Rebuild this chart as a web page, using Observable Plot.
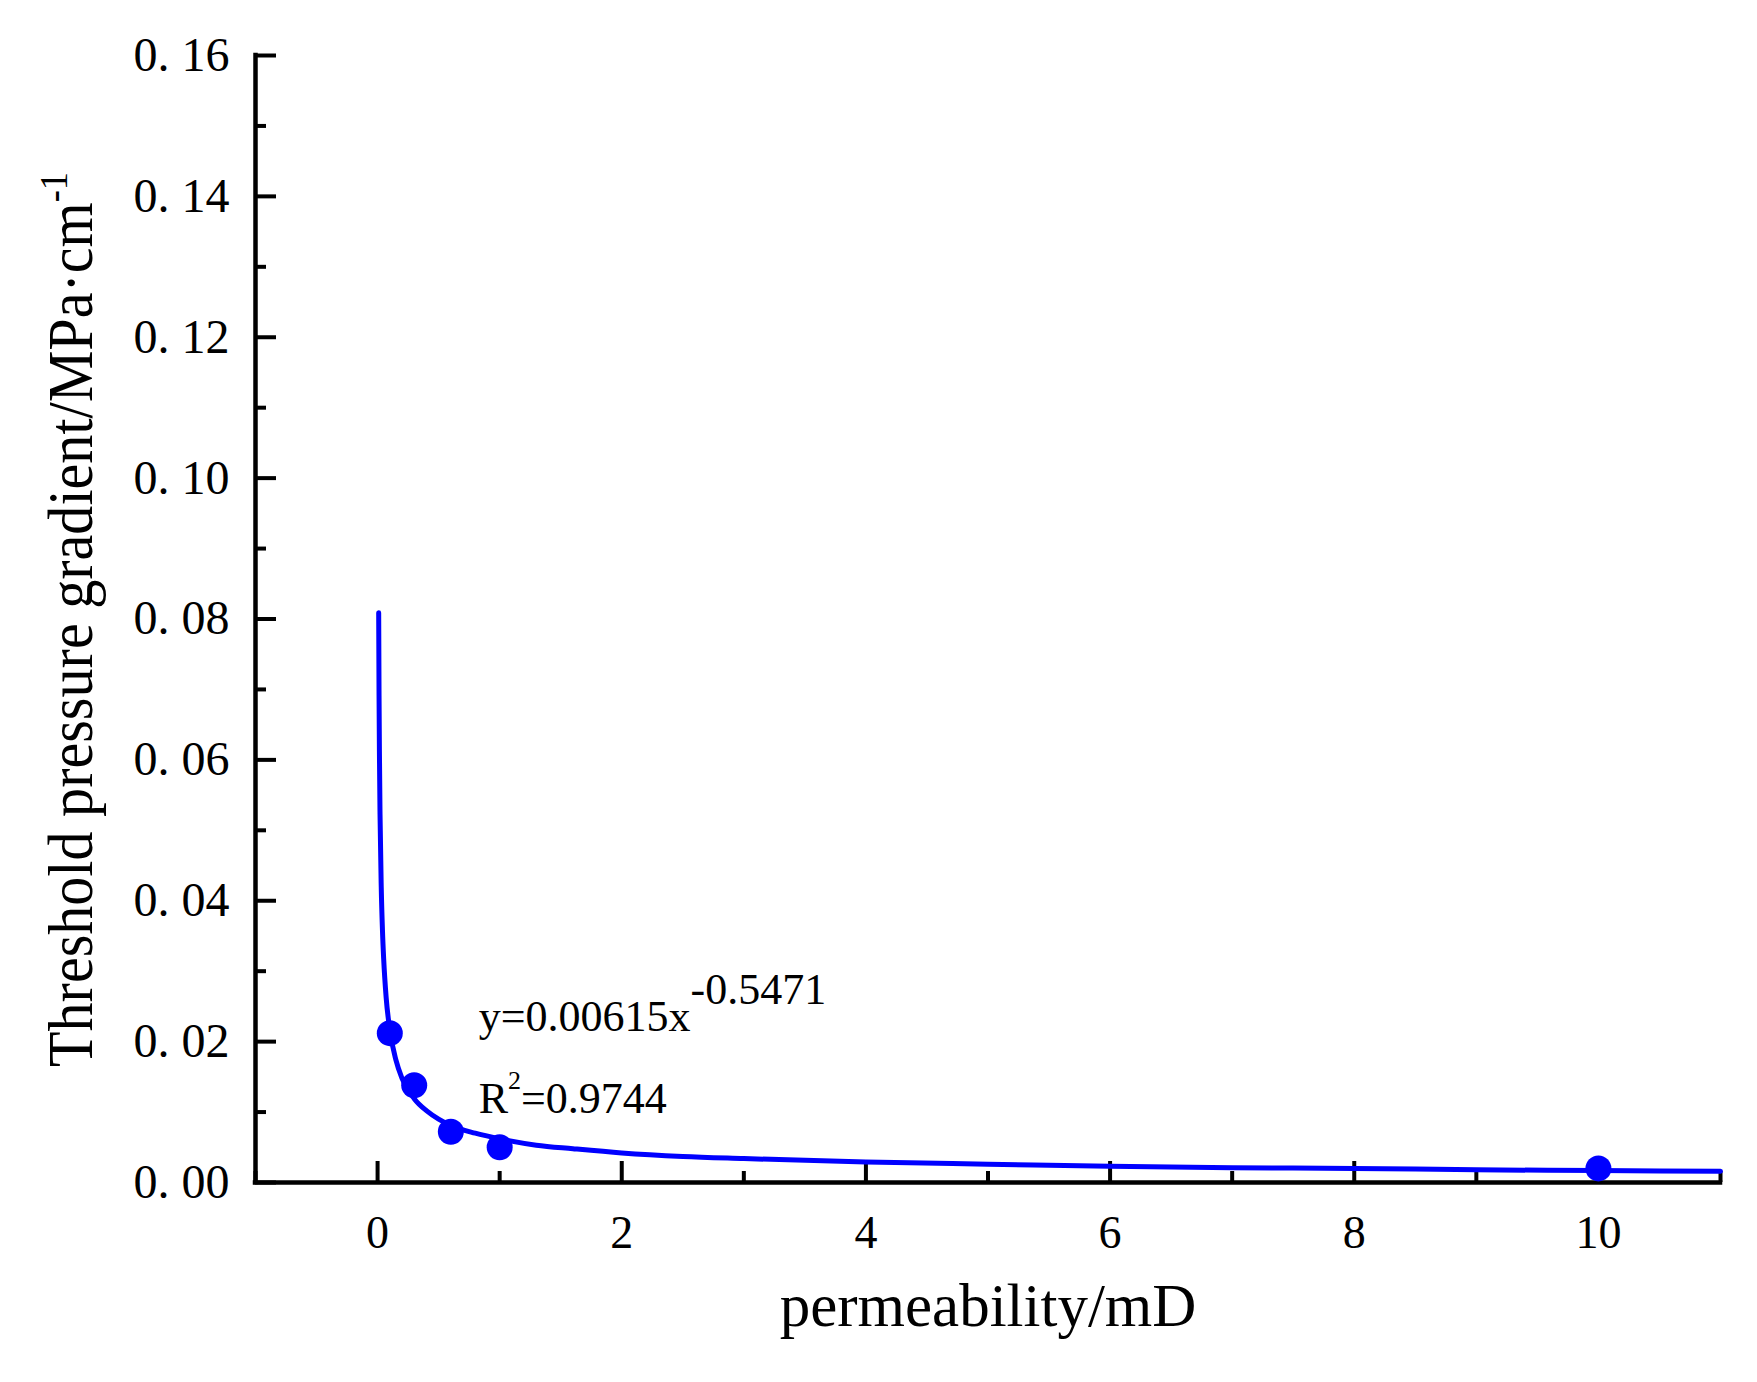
<!DOCTYPE html>
<html>
<head>
<meta charset="utf-8">
<script src="https://cdn.jsdelivr.net/npm/d3@7"></script>
<script src="https://cdn.jsdelivr.net/npm/@observablehq/plot@0.6"></script>
<style>
  html, body { margin: 0; padding: 0; background: #fff; }
  #chart svg { display: block; }
</style>
</head>
<body>
<div id="chart"></div>
<script>
// ---- data ----
const permeability = [0.1, 0.3, 0.6, 1.0, 10];
const gradient = [0.0212, 0.0138, 0.0072, 0.0050, 0.0020];

// fitted power-law curve
const fitPermeability = [0.009, 0.012, 0.015, 0.02, 0.03, 0.04, 0.05, 0.07, 0.1, 0.15, 0.2, 0.3, 0.4, 0.5, 0.6, 0.8, 1.0, 1.3, 1.6, 2, 2.5, 3, 4, 5, 6, 7, 8, 9, 10, 11];
const fitGradient = [0.0809, 0.0691, 0.0612, 0.0523, 0.0419, 0.0358, 0.0317, 0.0263, 0.0217, 0.0174, 0.0148, 0.0119, 0.0102, 0.0090, 0.0081, 0.0070, 0.0062, 0.0053, 0.0048, 0.0042, 0.0037, 0.0034, 0.0029, 0.0026, 0.0023, 0.0021, 0.0020, 0.0018, 0.0017, 0.0016];

const xMajorTicks = [0, 2, 4, 6, 8, 10];
const xMinorTicks = [-1, 1, 3, 5, 7, 9, 11];
const yMajorTicks = [0, 0.02, 0.04, 0.06, 0.08, 0.10, 0.12, 0.14, 0.16];
const yMinorTicks = [0.01, 0.03, 0.05, 0.07, 0.09, 0.11, 0.13, 0.15];

const xTitle = "permeability/mD";
const yTitle = "Threshold pressure gradient/MPa·cm^-1^";

const annotText = ["y=0.00615x^-0.5471^", "R^2^=0.9744"];
const annotX = [0.828, 0.828];
const annotY = [0.02357, 0.01193];

// ---- styling ----
const serif = "'Liberation Serif', 'Times New Roman', serif";
const blue = "#0000ff";
const supStyle = {
  "y=0.00615x^-0.5471^": [{size: 44, shift: 27}],
  "R^2^=0.9744": [{size: 26, shift: 24}],
  "Threshold pressure gradient/MPa·cm^-1^": [{size: 40, shift: 25}]
};

const fitData = fitPermeability.map((x, i) => ({x, y: fitGradient[i]}));
const pointData = permeability.map((x, i) => ({x, y: gradient[i]}));
const yFmt = d => d3.format(".2f")(d).replace(".", ". ");

const chart = Plot.plot({
  width: 1757,
  height: 1382,
  marginLeft: 255,
  marginRight: 37,
  marginTop: 55,
  marginBottom: 200,
  style: {fontFamily: serif, background: "white", color: "black"},
  x: {domain: [-1, 11]},
  y: {domain: [0, 0.16]},
  marks: [
    // tick labels
    Plot.axisY(yMajorTicks, {tickSize: 0, tickPadding: 26, fontSize: 48, tickFormat: yFmt, label: null}),
    Plot.axisX(xMajorTicks, {tickSize: 0, tickPadding: 33, fontSize: 46, tickFormat: d => String(d), label: null}),
    // inward ticks
    Plot.axisY(yMajorTicks, {tickSize: 21, dx: 21, strokeWidth: 4, fill: "none", label: null}),
    Plot.axisY(yMinorTicks, {tickSize: 11, dx: 11, strokeWidth: 4, fill: "none", label: null}),
    Plot.axisX(xMajorTicks, {tickSize: 21, dy: -21, strokeWidth: 4, fill: "none", label: null}),
    Plot.axisX(xMinorTicks, {tickSize: 11, dy: -11, strokeWidth: 4, fill: "none", label: null}),
    // axis lines
    Plot.ruleX([-1], {stroke: "black", strokeWidth: 4.5, strokeLinecap: "square"}),
    Plot.ruleY([0], {stroke: "black", strokeWidth: 4.5, strokeLinecap: "square"}),
    // fit curve and points
    Plot.line(fitData, {x: "x", y: "y", stroke: blue, strokeWidth: 5, curve: "monotone-x"}),
    Plot.dot(pointData, {x: "x", y: "y", r: 13, fill: blue, stroke: "none"}),
    // annotation
    Plot.text(annotText, {x: annotX, y: annotY, text: d => d, textAnchor: "start", lineAnchor: "middle", fontSize: 44, fill: "black"}),
    // axis titles
    Plot.text([xTitle], {text: d => d, frameAnchor: "bottom", dy: 143, fontSize: 61, fill: "black"}),
    Plot.text([yTitle], {text: d => d, frameAnchor: "left", rotate: -90, textAnchor: "start", dx: -184, dy: 448, fontSize: 64, fill: "black"})
  ]
});

document.getElementById("chart").appendChild(chart);

// build superscripts as tspans
const NS = "http://www.w3.org/2000/svg";
chart.querySelectorAll("text").forEach(t => {
  const s = t.textContent;
  if (!s.includes("^")) return;
  const specs = supStyle[s] || [];
  const parts = s.split("^");
  while (t.firstChild) t.removeChild(t.firstChild);
  let supIndex = 0, pendingShift = 0;
  parts.forEach((p, i) => {
    if (!p) return;
    const ts = document.createElementNS(NS, "tspan");
    ts.textContent = p;
    if (i % 2 === 1) {
      const sp = specs[supIndex++] || {size: 30, shift: 20};
      ts.setAttribute("font-size", sp.size);
      ts.setAttribute("dy", -sp.shift);
      pendingShift = sp.shift;
    } else if (pendingShift) {
      ts.setAttribute("dy", pendingShift);
      pendingShift = 0;
    }
    t.appendChild(ts);
  });
  if (s.startsWith("Threshold")) {
    t.setAttribute("textLength", 895);
    t.setAttribute("lengthAdjust", "spacingAndGlyphs");
  }
});
</script>
</body>
</html>
